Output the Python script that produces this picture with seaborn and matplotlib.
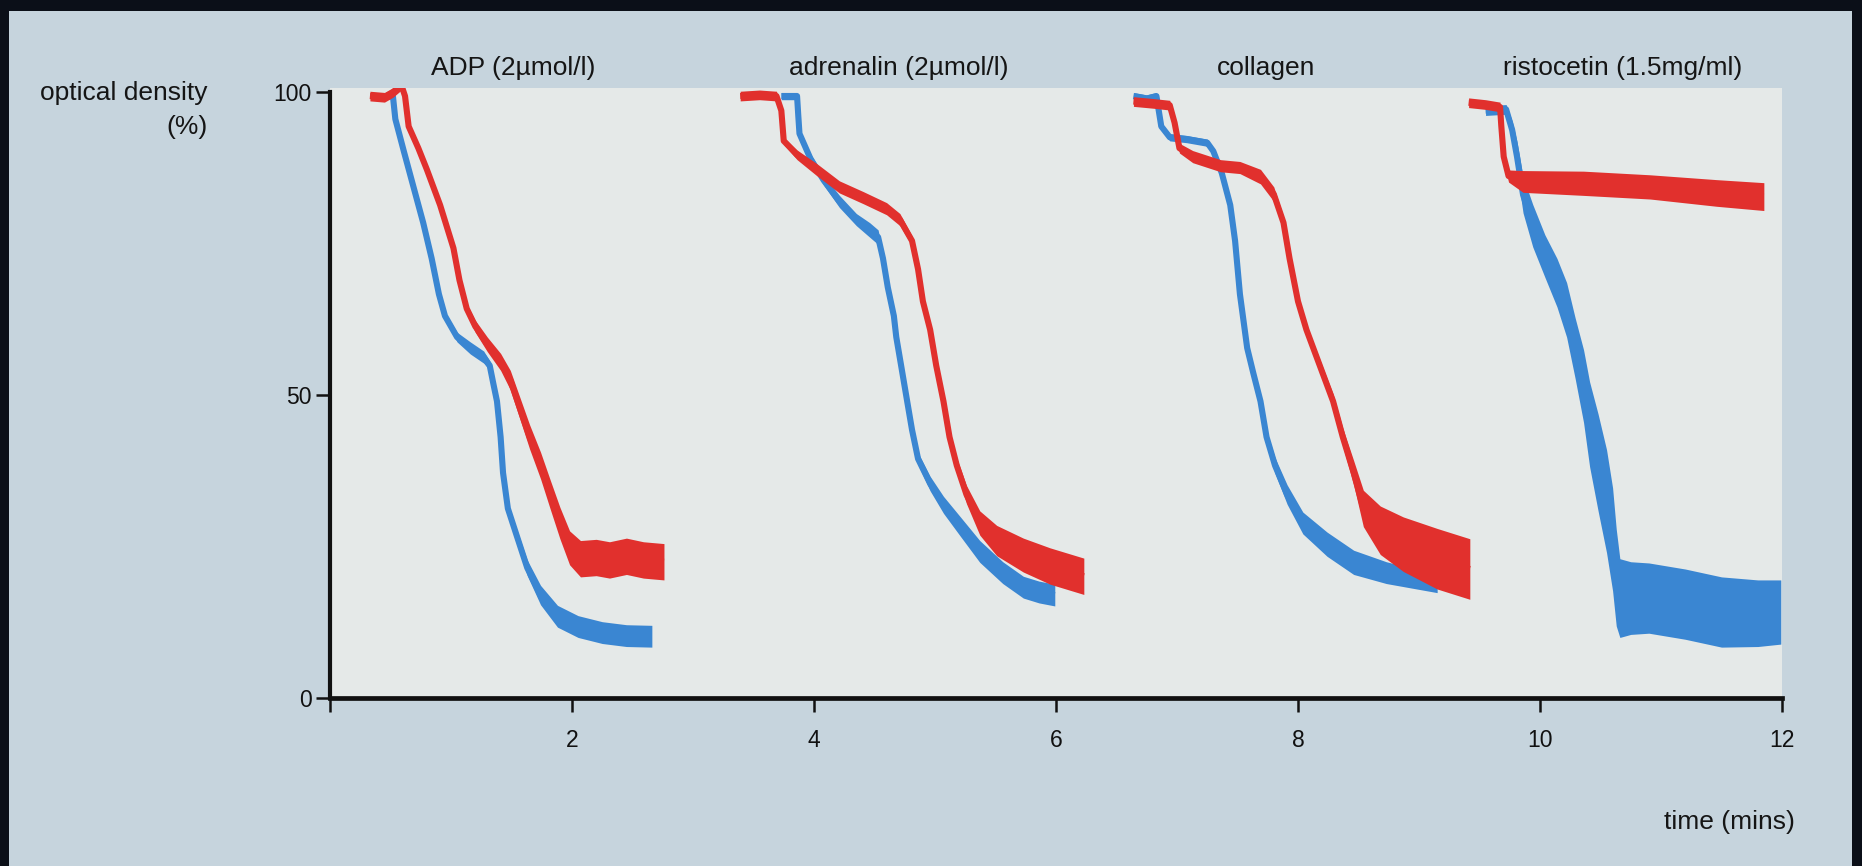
import numpy as np
import pandas as pd
import matplotlib
matplotlib.use("Agg")
import matplotlib.pyplot as plt
import seaborn as sns
from matplotlib.patches import Rectangle

# ---------------- data (time in minutes, optical density in %) ----------------
panel_titles = ["ADP (2\u00b5mol/l)", "adrenalin (2\u00b5mol/l)", "collagen", "ristocetin (1.5mg/ml)"]
title_pos = [1.51, 4.70, 7.74, 10.68]
x_ticks = [0, 2, 4, 6, 8, 10, 12]
x_tick_labels = ["", "2", "4", "6", "8", "10", "12"]
y_ticks = [0, 50, 100]
y_tick_labels = ["0", "50", "100"]

# ADP
adp_red_t = [0.33, 0.45, 0.52, 0.59, 0.62, 0.65, 0.73, 0.80, 0.91, 1.02, 1.07, 1.13, 1.20, 1.30, 1.41, 1.49,
             1.57, 1.65, 1.74, 1.82, 1.90, 1.98, 2.07, 2.20, 2.31, 2.45, 2.59, 2.76]
adp_red_v = [99.4, 99.2, 100.0, 101.2, 99.4, 94.4, 90.8, 87.3, 81.4, 74.3, 69.0, 64.3, 61.4, 58.4, 55.5, 52.5,
             47.8, 43.1, 38.4, 33.6, 28.9, 24.8, 23.0, 23.2, 22.8, 23.4, 22.8, 22.5]
adp_red_w = [0.8, 0.8, 0.8, 0.8, 0.6, 0.6, 0.8, 0.8, 0.8, 0.8, 0.8, 0.8, 1.0, 1.2, 1.4, 1.6,
             1.8, 2.0, 2.2, 2.4, 2.6, 2.8, 3.0, 3.0, 3.0, 3.0, 3.0, 3.0]
adp_blue_t = [0.45, 0.52, 0.54, 0.61, 0.69, 0.77, 0.84, 0.90, 0.95, 1.05, 1.16, 1.27, 1.32, 1.35, 1.38, 1.41,
              1.43, 1.47, 1.54, 1.63, 1.74, 1.88, 2.05, 2.25, 2.45, 2.66]
adp_blue_v = [99.4, 99.4, 95.6, 90.3, 84.4, 78.5, 72.6, 66.7, 63.1, 59.6, 57.8, 56.3, 54.9, 51.9, 49.0, 43.1,
              37.2, 31.3, 27.0, 21.5, 17.0, 13.5, 11.8, 10.8, 10.3, 10.2]
adp_blue_w = [0.5, 0.5, 0.5, 0.5, 0.5, 0.5, 0.5, 0.5, 0.6, 0.8, 1.0, 1.0, 0.8, 0.6, 0.6, 0.6,
              0.6, 0.8, 1.0, 1.3, 1.6, 1.8, 1.8, 1.8, 1.8, 1.8]

# adrenalin
adr_red_t = [3.39, 3.55, 3.69, 3.73, 3.75, 3.86, 4.02, 4.21, 4.41, 4.60, 4.71, 4.81, 4.86, 4.90, 4.96, 5.01,
             5.07, 5.12, 5.18, 5.26, 5.37, 5.51, 5.73, 5.95, 6.23]
adr_red_v = [99.4, 99.6, 99.4, 97.0, 92.0, 89.7, 87.3, 84.4, 82.6, 80.8, 79.0, 75.5, 70.8, 65.5, 60.8, 54.9,
             49.0, 43.1, 38.4, 33.6, 28.9, 26.0, 23.6, 21.8, 20.1]
adr_red_w = [0.8, 0.8, 0.8, 0.6, 0.6, 0.8, 1.0, 1.0, 1.0, 1.0, 1.0, 0.8, 0.6, 0.6, 0.6, 0.6,
             0.8, 1.0, 1.2, 1.5, 2.0, 2.5, 2.8, 3.0, 3.0]
adr_blue_t = [3.73, 3.86, 3.87, 3.88, 3.97, 4.08, 4.21, 4.35, 4.46, 4.53, 4.57, 4.61, 4.66, 4.68, 4.72, 4.77,
              4.81, 4.86, 4.96, 5.07, 5.21, 5.37, 5.56, 5.73, 5.86, 5.99]
adr_blue_v = [99.4, 99.4, 96.2, 93.2, 89.1, 85.5, 82.0, 79.0, 77.3, 76.1, 72.6, 67.8, 63.1, 59.6, 54.9, 49.0,
              44.3, 39.5, 35.4, 31.9, 28.3, 24.2, 20.7, 18.3, 17.5, 17.0]
adr_blue_w = [0.6, 0.6, 0.6, 0.8, 0.8, 0.8, 1.0, 1.0, 1.2, 1.2, 0.8, 0.6, 0.6, 0.6, 0.6, 0.6,
              0.8, 1.0, 1.2, 1.4, 1.6, 1.8, 1.8, 1.8, 1.8, 1.8]

# collagen
col_red_t = [6.64, 6.80, 6.94, 6.98, 7.02, 7.13, 7.36, 7.52, 7.69, 7.80, 7.88, 7.93, 8.00, 8.07, 8.18, 8.29,
             8.37, 8.46, 8.54, 8.68, 8.87, 9.15, 9.42]
col_red_v = [98.5, 98.2, 97.9, 95.0, 90.8, 89.4, 87.9, 87.6, 86.1, 83.2, 78.5, 72.6, 65.5, 60.8, 54.9, 49.0,
             43.1, 37.2, 31.3, 27.7, 25.4, 23.0, 21.3]
col_red_w = [0.8, 0.8, 0.8, 0.8, 0.8, 1.0, 1.0, 1.0, 1.2, 1.2, 1.0, 0.8, 0.8, 0.8, 1.0, 1.2,
             1.5, 2.0, 3.0, 4.0, 4.5, 5.0, 5.0]
col_blue_t = [6.64, 6.75, 6.83, 6.87, 6.94, 7.08, 7.25, 7.30, 7.37, 7.44, 7.48, 7.52, 7.58, 7.63, 7.69, 7.74,
              7.81, 7.91, 8.04, 8.24, 8.46, 8.73, 9.01, 9.15]
col_blue_v = [99.4, 99.0, 99.4, 94.4, 92.6, 92.3, 91.7, 90.3, 86.7, 81.4, 75.5, 66.7, 57.8, 53.7, 49.0, 43.1,
              38.4, 33.6, 28.9, 25.4, 22.4, 20.7, 19.5, 18.9]
col_blue_w = [0.6, 0.6, 0.6, 0.6, 0.6, 0.6, 0.6, 0.6, 0.6, 0.5, 0.5, 0.5, 0.5, 0.6, 0.8, 1.0,
              1.3, 1.6, 1.8, 2.0, 2.0, 1.8, 1.6, 1.5]

# ristocetin
ris_red_t = [9.41, 9.55, 9.67, 9.68, 9.70, 9.74, 9.86, 10.36, 10.91, 11.46, 11.85]
ris_red_v = [98.3, 98.0, 97.6, 94.5, 89.4, 86.2, 85.3, 85.0, 84.4, 83.4, 82.8]
ris_red_w = [0.8, 0.8, 0.8, 0.8, 0.8, 1.0, 1.8, 2.0, 2.0, 2.2, 2.3]
ris_blue_t = [9.55, 9.72, 9.77, 9.81, 9.86, 9.94, 10.04, 10.14, 10.22, 10.29, 10.36, 10.41, 10.48, 10.55,
              10.60, 10.63, 10.66, 10.75, 10.90, 11.20, 11.50, 11.80, 11.99]
ris_blue_v = [97.0, 97.2, 93.8, 89.4, 83.1, 78.0, 73.0, 68.6, 64.1, 57.8, 51.5, 45.2, 38.9, 32.5,
              26.2, 19.9, 16.5, 16.5, 16.5, 15.5, 14.2, 14.0, 14.2]
ris_blue_w = [0.8, 0.8, 1.5, 2.5, 3.0, 3.5, 3.5, 4.0, 4.5, 5.0, 6.0, 7.0, 8.0, 8.5,
              8.5, 8.0, 6.5, 6.0, 5.8, 5.8, 5.8, 5.5, 5.3]

RED = "#e1302d"
BLUE = "#3a86d2"

traces = [
    (adp_blue_t, adp_blue_v, adp_blue_w, BLUE),
    (adp_red_t, adp_red_v, adp_red_w, RED),
    (adr_blue_t, adr_blue_v, adr_blue_w, BLUE),
    (adr_red_t, adr_red_v, adr_red_w, RED),
    (col_blue_t, col_blue_v, col_blue_w, BLUE),
    (col_red_t, col_red_v, col_red_w, RED),
    (ris_blue_t, ris_blue_v, ris_blue_w, BLUE),
    (ris_red_t, ris_red_v, ris_red_w, RED),
]

# ---------------- figure ----------------
sns.set_style("ticks")
plt.rcParams['font.family'] = ['Liberation Sans', 'DejaVu Sans']

W, H = 1862, 866
fig = plt.figure(figsize=(W / 100, H / 100), dpi=100, facecolor="#0b0f18")
fig.patches.append(Rectangle((9 / W, 0), (1852 - 9) / W, 1 - 11 / H, transform=fig.transFigure,
                             facecolor="#c6d4dd", edgecolor="none", zorder=-10))

ax = fig.add_axes([330 / W, 1 - 698 / H, (1782 - 330) / W, (698 - 87.6) / H])
ax.set_facecolor("#e5e9e8")

for i, (t, v, w, c) in enumerate(traces):
    t = np.asarray(t); v = np.asarray(v); w = np.asarray(w)
    z = 3 + i
    ax.fill_between(t, v - w, v + w, color=c, linewidth=0, zorder=z)
    df = pd.DataFrame({"time": t, "od": v})
    sns.lineplot(data=df, x="time", y="od", ax=ax, color=c, linewidth=4.4, sort=False,
                 estimator=None, zorder=z, solid_joinstyle="round", solid_capstyle="butt")

ax.set_xlim(0, 12)
ax.set_ylim(0, 100.8)
ax.set_xlabel("")
ax.set_ylabel("")
for s in ["top", "right"]:
    ax.spines[s].set_visible(False)
ax.spines["left"].set_bounds(0, 100)
ax.spines["left"].set_linewidth(3.0)
ax.spines["bottom"].set_linewidth(3.4)
ax.spines["left"].set_color("#111111")
ax.spines["bottom"].set_color("#111111")

ax.set_xticks(x_ticks)
ax.set_xticklabels(x_tick_labels)
ax.set_yticks(y_ticks)
ax.set_yticklabels(y_tick_labels)
ax.tick_params(axis="both", direction="out", length=10, width=1.8, colors="#111111", labelsize=16.5)
ax.tick_params(axis="x", pad=12)
ax.tick_params(axis="y", pad=3)

for title, xp in zip(panel_titles, title_pos):
    ax.text(xp, 104.0, title, ha="center", va="center", fontsize=19, color="#151515", clip_on=False)

fig.text(208 / W, 1 - 93 / H, "optical density", ha="right", va="center", fontsize=19, color="#151515")
fig.text(208 / W, 1 - 127 / H, "(%)", ha="right", va="center", fontsize=19, color="#151515")
fig.text(1795 / W, 1 - 822 / H, "time (mins)", ha="right", va="center", fontsize=19, color="#151515")

fig.savefig("out.png", dpi=100, facecolor=fig.get_facecolor())
